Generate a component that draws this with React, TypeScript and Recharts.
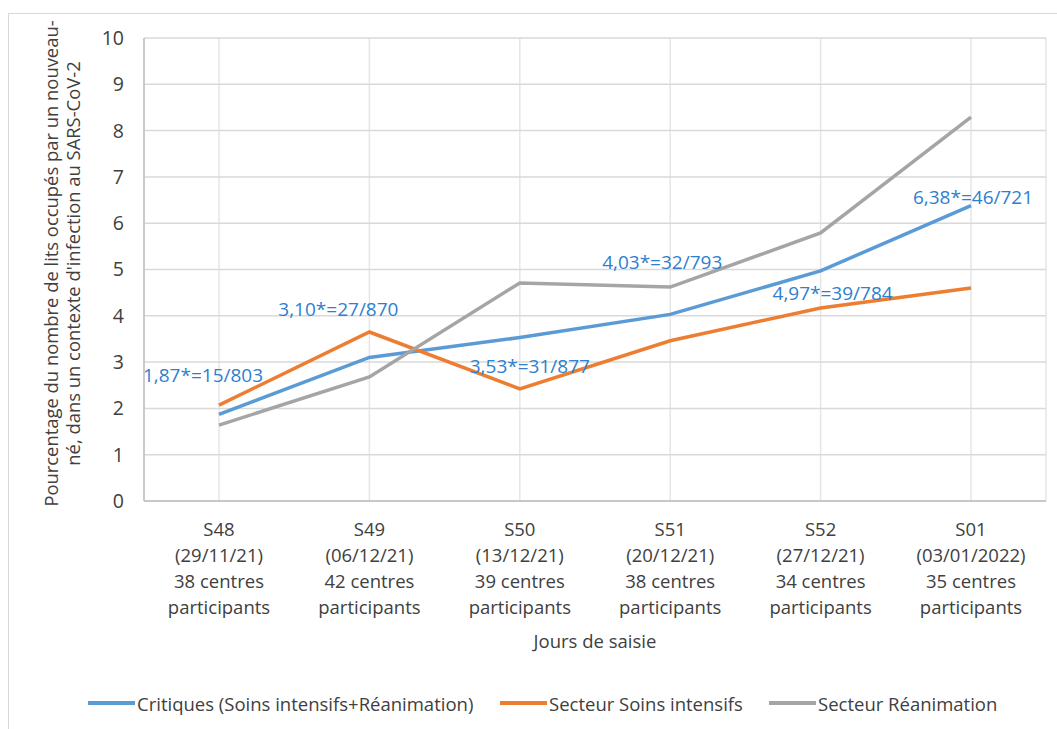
import { LineChart, Line, XAxis, YAxis, CartesianGrid, Legend, LabelList } from 'recharts'

const weeks = ['S48', 'S49', 'S50', 'S51', 'S52', 'S01']
const dates = ['(29/11/21)', '(06/12/21)', '(13/12/21)', '(20/12/21)', '(27/12/21)', '(03/01/2022)']
const centres = [38, 42, 39, 38, 34, 35]

const critiques = [1.87, 3.1, 3.53, 4.03, 4.97, 6.38]
const soinsIntensifs = [2.07, 3.65, 2.42, 3.46, 4.17, 4.6]
const reanimation = [1.64, 2.68, 4.71, 4.62, 5.79, 8.29]

const critiquesLabels = [
  '1,87*=15/803',
  '3,10*=27/870',
  '3,53*=31/877',
  '4,03*=32/793',
  '4,97*=39/784',
  '6,38*=46/721',
]

const yTicks = [0, 1, 2, 3, 4, 5, 6, 7, 8, 9, 10]

const data = weeks.map((w, i) => ({
  week: w,
  critiques: critiques[i],
  soins: soinsIntensifs[i],
  rea: reanimation[i],
}))

// where each data label sits relative to its point (px)
const labelOffsets = [
  [-16, -39],
  [-31, -48],
  [10, 28],
  [-8, -52],
  [12, 22],
  [2, -9],
]

const FONT = '"Open Sans", sans-serif'
const TEXT = '#404040'
const BLUE = '#5b9bd5'
const ORANGE = '#ed7d31'
const GREY = '#a5a5a5'

function WeekTick({ x, y, index }: any) {
  const lines = [weeks[index], dates[index], `${centres[index]} centres`, 'participants']
  return (
    <g>
      {lines.map((l, i) => (
        <text
          key={i}
          x={x}
          y={y + 27 + i * 26}
          textAnchor="middle"
          dominantBaseline="central"
          fontSize={18.5}
          fontFamily={FONT}
          fill={TEXT}
        >
          {l}
        </text>
      ))}
    </g>
  )
}

function XTitle({ viewBox }: any) {
  return (
    <text
      x={viewBox.x + viewBox.width / 2}
      y={viewBox.y + 139}
      textAnchor="middle"
      dominantBaseline="central"
      fontSize={18.5}
      fontFamily={FONT}
      fill={TEXT}
    >
      Jours de saisie
    </text>
  )
}

function YTitle({ viewBox }: any) {
  const cx = viewBox.x + 41
  const cy = viewBox.y + viewBox.height / 2 - 6
  return (
    <text
      transform={`rotate(-90, ${cx}, ${cy})`}
      x={cx}
      y={cy}
      textAnchor="middle"
      dominantBaseline="central"
      fontSize={18.4}
      fontFamily={FONT}
      fill={TEXT}
    >
      <tspan x={cx} dy={0}>Pourcentage du nombre de lits occupés par un nouveau-</tspan>
      <tspan x={cx} dy={22}>né, dans un contexte d'infection au SARS-CoV-2</tspan>
    </text>
  )
}

function PointLabel({ x, y, index }: any) {
  const [dx, dy] = labelOffsets[index]
  return (
    <text
      x={x + dx}
      y={y + dy}
      textAnchor="middle"
      dominantBaseline="central"
      fontSize={19}
      fontFamily={FONT}
      fill="#2e7fcf"
    >
      {critiquesLabels[index]}
    </text>
  )
}

const legendItems = [
  { name: 'Critiques (Soins intensifs+Réanimation)', color: BLUE, left: 79 },
  { name: 'Secteur Soins intensifs', color: ORANGE, left: 491 },
  { name: 'Secteur Réanimation', color: GREY, left: 760 },
]

function LegendBox() {
  return (
    <div style={{ position: 'relative', height: 24, width: 1049 }}>
      {legendItems.map((it) => (
        <div
          key={it.name}
          style={{
            position: 'absolute',
            left: it.left,
            top: 0,
            height: 24,
            display: 'flex',
            alignItems: 'center',
            fontFamily: FONT,
            fontSize: 18.5,
            color: TEXT,
            whiteSpace: 'nowrap',
          }}
        >
          <span style={{ display: 'inline-block', width: 47, height: 4, background: it.color, marginRight: 2 }} />
          {it.name}
        </div>
      ))}
    </div>
  )
}

export default function App() {
  return (
    <>
      <style>{'body{margin:0;overflow:hidden;background:#fff}'}</style>
      <div
        style={{
          position: 'absolute',
          left: 8,
          top: 13,
          width: 1049,
          height: 716,
          borderLeft: '1px solid #d9d9d9',
          borderTop: '1px solid #d9d9d9',
          background: '#fff',
        }}
      >
        <LineChart width={1049} height={716} data={data} margin={{ top: 24, right: 12, left: 0, bottom: 0 }}>
          <CartesianGrid horizontal={false} stroke="#e6e6e6" strokeWidth={1.5} />
          <CartesianGrid vertical={false} stroke="#d9d9d9" strokeWidth={1.5} />
          <XAxis
            dataKey="week"
            height={229}
            padding={{ left: 75, right: 75 }}
            tick={<WeekTick />}
            tickLine={false}
            tickSize={0}
            tickMargin={0}
            axisLine={{ stroke: '#bfbfbf', strokeWidth: 1.5 }}
            interval={0}
            label={<XTitle />}
          />
          <YAxis
            width={135}
            domain={[0, 10]}
            ticks={yTicks}
            tickLine={false}
            tickSize={0}
            tickMargin={20}
            axisLine={{ stroke: '#bfbfbf', strokeWidth: 1.5 }}
            tick={{ fill: TEXT, fontSize: 19.5, fontFamily: FONT }}
            label={<YTitle />}
          />
          <Legend
            verticalAlign="middle"
            align="center"
            content={<LegendBox />}
            wrapperStyle={{ top: 677, left: 0, width: 1049, height: 24 }}
          />
          <Line
            dataKey="critiques"
            name="Critiques (Soins intensifs+Réanimation)"
            stroke={BLUE}
            strokeWidth={3.5}
            dot={false}
            isAnimationActive={false}
          >
            <LabelList dataKey="critiques" content={<PointLabel />} />
          </Line>
          <Line
            dataKey="soins"
            name="Secteur Soins intensifs"
            stroke={ORANGE}
            strokeWidth={3.5}
            dot={false}
            isAnimationActive={false}
          />
          <Line
            dataKey="rea"
            name="Secteur Réanimation"
            stroke={GREY}
            strokeWidth={3.5}
            dot={false}
            isAnimationActive={false}
          />
        </LineChart>
      </div>
    </>
  )
}
